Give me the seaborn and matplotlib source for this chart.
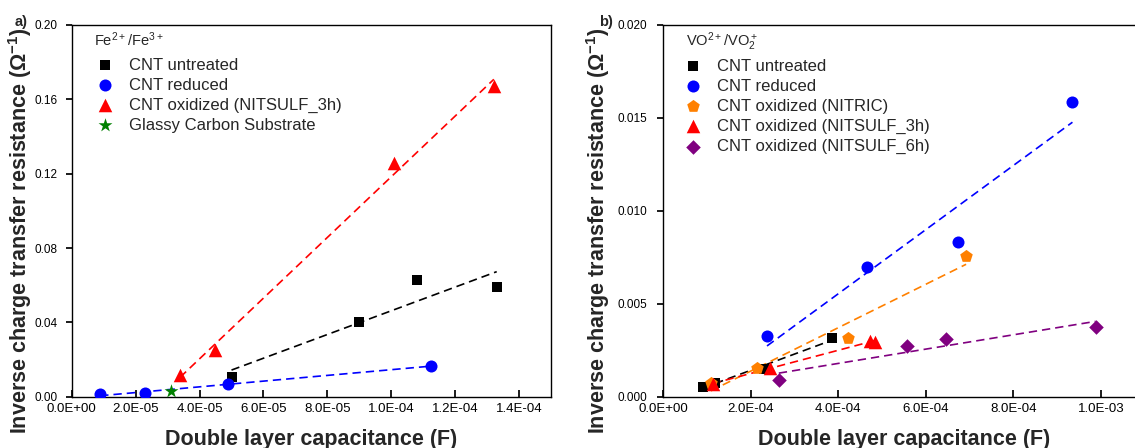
import matplotlib
matplotlib.use("Agg")
import matplotlib.pyplot as plt
import seaborn as sns
from matplotlib.ticker import FormatStrFormatter, MultipleLocator

# ---- panel a) Fe2+/Fe3+ ----
fe_untreated_x = [5.0e-5, 9.0e-5, 1.08e-4, 1.33e-4]
fe_untreated_y = [0.0108, 0.0400, 0.0628, 0.0592]
fe_reduced_x = [0.89e-5, 2.29e-5, 4.89e-5, 1.123e-4]
fe_reduced_y = [0.0012, 0.0018, 0.0068, 0.0165]
fe_nitsulf3_x = [3.39e-5, 4.49e-5, 1.009e-4, 1.321e-4]
fe_nitsulf3_y = [0.0115, 0.0251, 0.1256, 0.1672]
fe_glassy_x = [3.1e-5]
fe_glassy_y = [0.0032]

# ---- panel b) VO2+/VO2+ ----
vo_untreated_x = [0.90e-4, 1.19e-4, 2.29e-4, 3.86e-4]
vo_untreated_y = [0.00054, 0.00075, 0.00147, 0.00314]
vo_reduced_x = [2.37e-4, 4.66e-4, 6.73e-4, 9.35e-4]
vo_reduced_y = [0.00326, 0.00696, 0.00834, 0.01587]
vo_nitric_x = [1.086e-4, 2.147e-4, 4.21e-4, 6.92e-4]
vo_nitric_y = [0.00072, 0.00152, 0.00314, 0.00757]
vo_nitsulf3_x = [1.127e-4, 2.43e-4, 4.72e-4, 4.84e-4]
vo_nitsulf3_y = [0.00068, 0.00156, 0.00300, 0.00296]
vo_nitsulf6_x = [2.64e-4, 5.58e-4, 6.46e-4, 9.88e-4]
vo_nitsulf6_y = [0.00090, 0.00274, 0.00309, 0.00373]

sns.set_theme(style="ticks")
plt.rcParams['font.family'] = ['Liberation Sans', 'DejaVu Sans']
plt.rcParams['mathtext.default'] = 'regular'

fig = plt.figure(figsize=(11.35, 4.48), dpi=100)
ax1 = fig.add_axes([0.0632, 0.1145, 0.4223, 0.8297])
ax2 = fig.add_axes([0.5844, 0.1145, 0.4241, 0.8297])

series_a = [
    ("CNT untreated", fe_untreated_x, fe_untreated_y, "black", "s", 55, True),
    ("CNT reduced", fe_reduced_x, fe_reduced_y, "blue", "o", 75, True),
    ("CNT oxidized (NITSULF_3h)", fe_nitsulf3_x, fe_nitsulf3_y, "red", "^", 95, True),
    ("Glassy Carbon Substrate", fe_glassy_x, fe_glassy_y, "green", "*", 110, False),
]
series_b = [
    ("CNT untreated", vo_untreated_x, vo_untreated_y, "black", "s", 55, True),
    ("CNT reduced", vo_reduced_x, vo_reduced_y, "blue", "o", 75, True),
    ("CNT oxidized (NITRIC)", vo_nitric_x, vo_nitric_y, "#ff8000", "p", 90, True),
    ("CNT oxidized (NITSULF_3h)", vo_nitsulf3_x, vo_nitsulf3_y, "red", "^", 95, True),
    ("CNT oxidized (NITSULF_6h)", vo_nitsulf6_x, vo_nitsulf6_y, "purple", "D", 55, True),
]


def draw(ax, series, ypad):
    for lab, x, y, c, m, s, fit in series:
        if fit:
            # linear fit over the data range
            sns.regplot(x=x, y=y, scatter=False, ci=None, color=c, ax=ax,
                        line_kws=dict(ls=(0, (5, 3)), lw=1.2, zorder=2))
        sns.scatterplot(x=x, y=y, color=c, marker=m, s=s, linewidth=0,
                        label=lab, ax=ax, zorder=3)
    for sp in ax.spines.values():
        sp.set_visible(True)
        sp.set_linewidth(1.0)
        sp.set_color("black")
    ax.xaxis.set_major_formatter(FormatStrFormatter('%.1E'))
    ax.tick_params(axis='x', direction='in', length=5, labelsize=9.5, pad=4.5, colors='black')
    ax.tick_params(axis='y', direction='out', length=4, labelsize=8.5, pad=ypad, colors='black')
    ax.set_xlabel("Double layer capacitance (F)", fontsize=15.5, fontweight='bold')
    ax.set_ylabel(r"Inverse charge transfer resistance ($\Omega^{-1}$)",
                  fontsize=15.5, fontweight='bold')
    ax.legend(loc='upper left', frameon=False, fontsize=12, borderpad=0,
              borderaxespad=0, handlelength=0.92, handletextpad=0.98,
              labelspacing=0.3)


draw(ax1, series_a, 6.5)
ax1.set_xlim(0, 1.5e-4)
ax1.set_ylim(0, 0.20)
ax1.xaxis.set_major_locator(MultipleLocator(2e-5))
ax1.yaxis.set_major_locator(MultipleLocator(0.04))
ax1.yaxis.set_major_formatter(FormatStrFormatter('%.2f'))
ax1.legend_.set_bbox_to_anchor((0.0536, 0.912), transform=ax1.transAxes)
ax1.text(0.047, 0.985, r"Fe$^{2+}$/Fe$^{3+}$", transform=ax1.transAxes,
         fontsize=10.5, va='top', ha='left')
ax1.xaxis.set_label_coords(0.5, -0.086)
ax1.yaxis.set_label_coords(-0.079, 0.446)

draw(ax2, series_b, 7.5)
ax2.set_xlim(0, 1.1e-3)
ax2.set_ylim(0, 0.020)
ax2.xaxis.set_major_locator(MultipleLocator(2e-4))
ax2.yaxis.set_major_locator(MultipleLocator(0.005))
ax2.yaxis.set_major_formatter(FormatStrFormatter('%.3f'))
ax2.legend_.set_bbox_to_anchor((0.0465, 0.909), transform=ax2.transAxes)
ax2.text(0.047, 0.985, r"VO$^{2+}$/VO$_2^+$", transform=ax2.transAxes,
         fontsize=10.5, va='top', ha='left')
ax2.xaxis.set_label_coords(0.5, -0.086)
ax2.yaxis.set_label_coords(-0.1066, 0.446)

fig.text(21.5 / 1135, 1 - 22 / 448, "a)", fontsize=10.5, fontweight='bold',
         ha='center', va='center')
fig.text(606.5 / 1135, 1 - 22 / 448, "b)", fontsize=10.5, fontweight='bold',
         ha='center', va='center')

fig.savefig("out.png", dpi=100)
